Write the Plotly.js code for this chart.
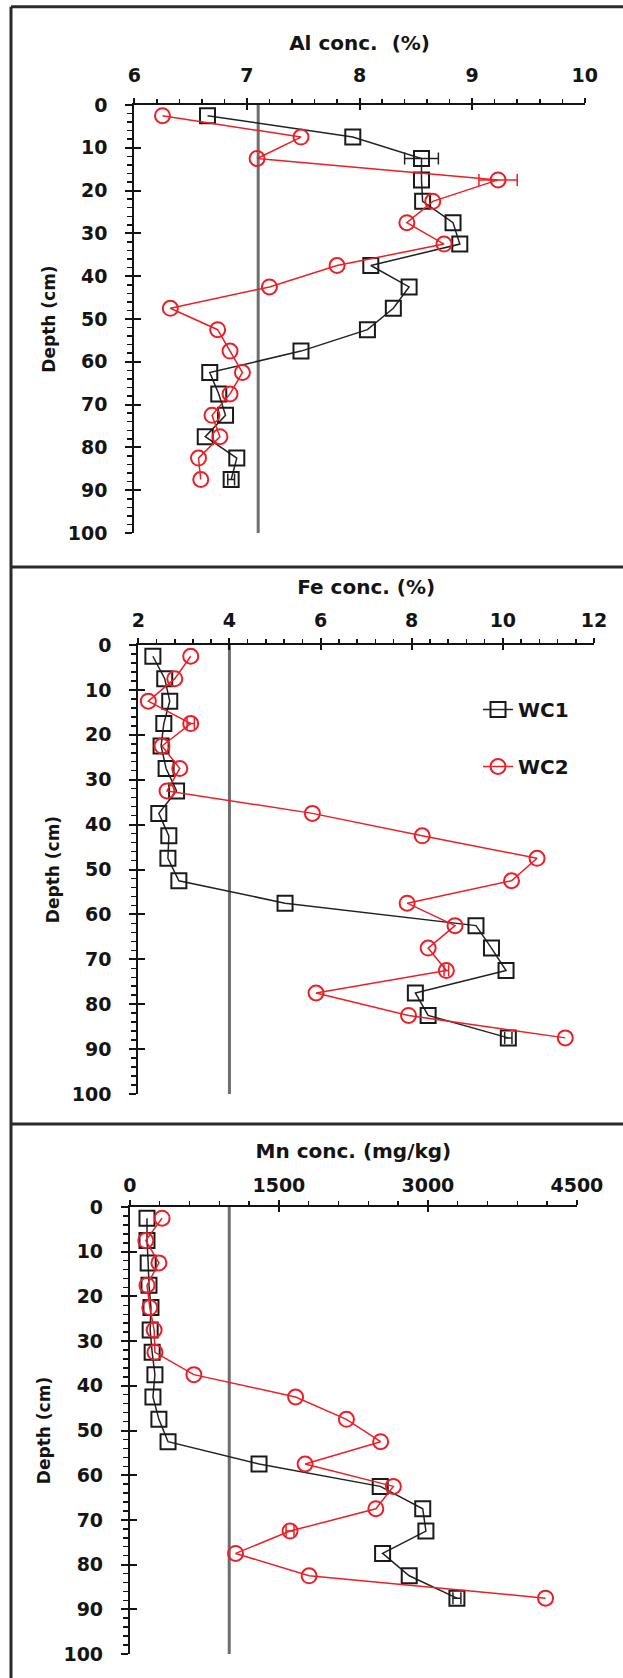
<!DOCTYPE html>
<html>
<head>
<meta charset="utf-8">
<script src="https://cdn.plot.ly/plotly-3.0.1.min.js"></script>
<style>html,body{margin:0;padding:0;background:#fff;}#chart{width:623px;height:1678px;}</style>
</head>
<body>
<div id="chart"></div>
<script>
// ---- data ----
var depths = [2.5, 7.5, 12.5, 17.5, 22.5, 27.5, 32.5, 37.5, 42.5, 47.5, 52.5, 57.5, 62.5, 67.5, 72.5, 77.5, 82.5, 87.5];
var seriesNames = ["WC1", "WC2"];

var alWC1 = [6.65, 7.94, 8.55, 8.55, 8.56, 8.83, 8.89, 8.10, 8.44, 8.30, 8.07, 7.48, 6.67, 6.75, 6.81, 6.63, 6.91, 6.86];
var alWC2 = [6.25, 7.48, 7.09, 9.23, 8.65, 8.42, 8.75, 7.80, 7.20, 6.32, 6.74, 6.85, 6.96, 6.85, 6.69, 6.76, 6.57, 6.59];
var alErr1 = [null, null, 0.15, null, null, null, null, null, null, null, null, null, null, null, null, null, null, 0.03];
var alErr2 = [null, null, null, 0.17, null, null, null, null, null, null, null, null, null, null, null, null, null, null];

var feWC1 = [2.32, 2.58, 2.69, 2.56, 2.50, 2.61, 2.84, 2.45, 2.67, 2.65, 2.89, 5.22, 9.41, 9.75, 10.07, 8.08, 8.36, 10.12];
var feWC2 = [3.15, 2.80, 2.22, 3.15, 2.52, 2.91, 2.63, 5.82, 8.23, 10.75, 10.19, 7.90, 8.95, 8.36, 8.76, 5.90, 7.93, 11.37];
var feErr1 = [null, null, null, null, null, null, null, null, null, null, null, null, null, null, null, null, null, 0.08];
var feErr2 = [null, null, null, 0.08, null, null, null, null, null, null, null, null, null, null, 0.05, null, null, null];

var mnWC1 = [172, 172, 184, 192, 212, 204, 224, 252, 232, 292, 384, 1300, 2520, 2948, 2980, 2544, 2812, 3292];
var mnWC2 = [324, 160, 292, 172, 200, 244, 252, 644, 1668, 2180, 2524, 1764, 2652, 2476, 1612, 1064, 1804, 4184];
var mnErr1 = [null, null, null, null, null, null, null, null, null, null, null, null, null, null, null, null, null, 40];
var mnErr2 = [null, null, null, null, null, null, null, null, null, null, null, null, null, null, 40, null, null, null];

var refValues = [7.1, 4.0, 1000];           // grey background lines
var depthRange = [100, 0];

var xTitles = ["Al conc.\u00a0 (%)", "Fe conc. (%)", "Mn conc. (mg/kg)"];
var yTitle = "Depth (cm)";
var xRanges = [[6, 10], [2, 12], [0, 4500]];
var xMajor = [1, 2, 1500];
var xMinor = [0.2, 0.4, 300];

// ---- styling / layout ----
var W = 623, H = 1678;
var FONT = "DejaVu Sans, Liberation Sans, Arial, sans-serif";
var INK = "#141414";
var RED = "#ec1f26";
function px(x) { return x / W; }
function py(y) { return 1 - y / H; }
function errArr(a) { return a.map(function (v) { return v === null ? NaN : v; }); }

var panels = [
  {xd: [134.3, 584.8], yd: [105, 533], tstand: 8, lstand: 8},
  {xd: [138.3, 594.0], yd: [645, 1094], tstand: 9, lstand: 3},
  {xd: [129.9, 576.9], yd: [1207, 1654], tstand: 10, lstand: 0}
];
var wc1 = [alWC1, feWC1, mnWC1];
var wc2 = [alWC2, feWC2, mnWC2];
var err1 = [alErr1, feErr1, mnErr1];
var err2 = [alErr2, feErr2, mnErr2];

var data = [];
var layout = {
  width: W, height: H,
  margin: {l: 0, r: 0, t: 0, b: 0, pad: 0},
  paper_bgcolor: "#ffffff",
  plot_bgcolor: "rgba(0,0,0,0)",
  font: {family: FONT, color: INK},
  showlegend: true,
  legend: {
    x: px(478), y: py(690), xanchor: "left", yanchor: "top",
    bgcolor: "rgba(0,0,0,0)", borderwidth: 0,
    font: {family: FONT, size: 20, color: INK, weight: "bold"},
    traceorder: "grouped", tracegroupgap: 28
  },
  shapes: [
    {type: "line", xref: "paper", yref: "paper", x0: px(11), x1: 1, y0: py(6.7), y1: py(6.7), line: {color: "#2b2b2b", width: 3}},
    {type: "line", xref: "paper", yref: "paper", x0: px(11), x1: px(11), y0: py(6.7), y1: 0, line: {color: "#2b2b2b", width: 3}},
    {type: "line", xref: "paper", yref: "paper", x0: px(11), x1: 1, y0: py(567), y1: py(567), line: {color: "#2b2b2b", width: 3}},
    {type: "line", xref: "paper", yref: "paper", x0: px(11), x1: 1, y0: py(1124), y1: py(1124), line: {color: "#2b2b2b", width: 3}}
  ]
};

for (var i = 0; i < 3; i++) {
  var n = i + 1;
  var xs = n === 1 ? "" : String(n);
  var ov = String(n + 3);
  var p = panels[i];

  layout["xaxis" + xs] = {
    domain: [px(p.xd[0]), px(p.xd[1])],
    range: xRanges[i], anchor: "y" + xs, side: "top",
    tick0: xRanges[i][0], dtick: xMajor[i],
    ticks: "outside", ticklen: 5, tickwidth: 2, tickcolor: INK,
    minor: {dtick: xMinor[i], tick0: xRanges[i][0], ticks: "outside", ticklen: 4, tickwidth: 1.5, tickcolor: INK, showgrid: false},
    showline: true, linewidth: 2, linecolor: INK, mirror: false,
    showgrid: false, zeroline: false,
    tickfont: {family: FONT, size: 19, color: INK, weight: "bold"},
    ticklabelstandoff: p.lstand,
    title: {text: xTitles[i], font: {family: FONT, size: 20, color: INK, weight: "bold"}, standoff: p.tstand},
    fixedrange: true
  };
  layout["yaxis" + xs] = {
    domain: [py(p.yd[1]), py(p.yd[0])],
    range: depthRange, anchor: "x" + xs, side: "left",
    tick0: 0, dtick: 10,
    ticks: "outside", ticklen: 7, tickwidth: 2, tickcolor: INK,
    minor: {dtick: 2, tick0: 0, ticks: "outside", ticklen: 5, tickwidth: 1.5, tickcolor: INK, showgrid: false},
    showline: true, linewidth: 2, linecolor: INK, mirror: false,
    showgrid: false, zeroline: false,
    tickfont: {family: FONT, size: 19, color: INK, weight: "bold"},
    ticklabelstandoff: 14,
    title: {text: yTitle, font: {family: FONT, size: 17, color: INK, weight: "bold"}, standoff: 8},
    fixedrange: true
  };
  // overlay axes: inner half of the crossing major ticks
  layout["xaxis" + ov] = {
    overlaying: "x" + xs, anchor: "y" + ov, side: "top",
    range: xRanges[i], tick0: xRanges[i][0], dtick: xMajor[i],
    ticks: "inside", ticklen: 5, tickwidth: 2, tickcolor: INK,
    showticklabels: false, showline: false, showgrid: false, zeroline: false, fixedrange: true
  };
  layout["yaxis" + ov] = {
    overlaying: "y" + xs, anchor: "x" + ov, side: "left",
    range: depthRange, tick0: 0, dtick: 10,
    ticks: "inside", ticklen: 7, tickwidth: 2, tickcolor: INK,
    showticklabels: false, showline: false, showgrid: false, zeroline: false, fixedrange: true
  };

  // grey reference line
  data.push({
    type: "scatter", mode: "lines",
    x: [refValues[i], refValues[i]], y: [depthRange[1], depthRange[0]],
    xaxis: "x" + xs, yaxis: "y" + xs,
    line: {color: "#6e6e6e", width: 3},
    showlegend: false, hoverinfo: "skip"
  });
  // WC1
  data.push({
    type: "scatter", mode: "lines+markers", name: seriesNames[0], legendgroup: "g1",
    x: wc1[i], y: depths, xaxis: "x" + xs, yaxis: "y" + xs,
    line: {color: "#222222", width: 1.5},
    marker: {symbol: "square-open", size: 15, color: "#1a1a1a", line: {width: 2, color: "#1a1a1a"}},
    error_x: {type: "data", array: errArr(err1[i]), visible: true, color: "#222222", thickness: 1.5, width: 6},
    showlegend: n === 2, cliponaxis: false
  });
  // WC2
  data.push({
    type: "scatter", mode: "lines+markers", name: seriesNames[1], legendgroup: "g2",
    x: wc2[i], y: depths, xaxis: "x" + xs, yaxis: "y" + xs,
    line: {color: RED, width: 1.5},
    marker: {symbol: "circle-open", size: 15, color: RED, line: {width: 2, color: RED}},
    error_x: {type: "data", array: errArr(err2[i]), visible: true, color: RED, thickness: 1.5, width: 6},
    showlegend: n === 2, cliponaxis: false
  });
  // dummy trace to realise overlay axes
  data.push({
    type: "scatter", mode: "markers", x: [null], y: [null],
    xaxis: "x" + ov, yaxis: "y" + ov, showlegend: false, hoverinfo: "skip"
  });
}

Plotly.newPlot("chart", data, layout, {displayModeBar: false, staticPlot: true});
</script>
</body>
</html>
